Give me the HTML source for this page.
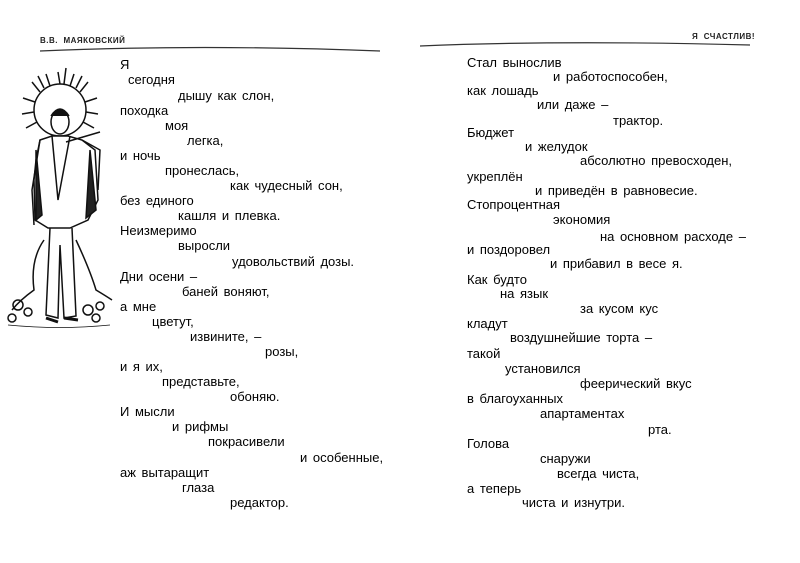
<!DOCTYPE html>
<html><head><meta charset="utf-8"><style>
body{margin:0;background:#fff;}
#p{position:relative;width:800px;height:563px;overflow:hidden;background:#fff;font-family:"Liberation Sans","DejaVu Sans",sans-serif;color:#000;}
.t{position:absolute;font-size:13px;line-height:16px;white-space:pre;word-spacing:2px;}
.h{position:absolute;font-size:8px;font-weight:bold;letter-spacing:0.5px;color:#222;}
</style></head><body><div id="p">
<svg width="800" height="563" style="position:absolute;left:0;top:0">
<path d="M40 51 Q200 44 380 51" stroke="#333" stroke-width="1.2" fill="none"/>
<path d="M420 46 Q560 40 750 45" stroke="#333" stroke-width="1.2" fill="none"/>
<g stroke="#111" fill="none" stroke-width="1.5">
<circle cx="60" cy="110" r="26"/>
<path d="M60 84 L58 72 M70 86 L74 74 M80 92 L88 82 M85 102 L97 98 M86 112 L98 114 M83 122 L94 128 M50 86 L46 74 M40 92 L32 82 M35 102 L23 98 M34 112 L22 114 M37 122 L26 128 M64 84 L66 68 M76 88 L82 76 M44 88 L38 76"/>
<ellipse cx="60" cy="122" rx="9" ry="12" fill="#fff"/>
<path d="M51 116 Q60 102 69 116" fill="#111"/>
<path d="M40 140 L52 136 L68 136 L82 140 L95 150 L98 200 L88 220 L70 228 L48 228 L35 220 L34 180 L36 160 Z" fill="#fff"/>
<path d="M40 140 L32 190 L34 225 M82 140 L100 150 L98 190" />
<path d="M52 136 L58 200 L70 136 M66 142 L100 132"/>
<path d="M36 150 L42 215 L36 220 Z M90 150 L96 210 L86 218 Z" fill="#222"/>
<path d="M50 228 L46 315 L58 318 L60 245 L64 318 L76 316 L72 228"/>
<path d="M46 318 L58 322 M64 318 L78 320" stroke-width="3"/>
<path d="M44 240 Q30 260 34 290 Q20 300 12 310 M76 240 Q90 270 96 290 Q106 296 112 300"/>
<circle cx="18" cy="305" r="5"/><circle cx="28" cy="312" r="4"/><circle cx="12" cy="318" r="4"/>
<circle cx="88" cy="310" r="5"/><circle cx="100" cy="306" r="4"/><circle cx="96" cy="318" r="4"/>
<path d="M8 325 Q60 330 110 325" stroke-width="0.8"/>
</g>
</svg>
<div class="h" style="left:40px;top:36px">В.В.&nbsp; МАЯКОВСКИЙ</div>
<div class="h" style="left:692px;top:32px">Я&nbsp; СЧАСТЛИВ!</div>
<div class="t" style="left:120px;top:57px">Я</div>
<div class="t" style="left:128px;top:72px">сегодня</div>
<div class="t" style="left:178px;top:88px">дышу как слон,</div>
<div class="t" style="left:120px;top:103px">походка</div>
<div class="t" style="left:165px;top:118px">моя</div>
<div class="t" style="left:187px;top:133px">легка,</div>
<div class="t" style="left:120px;top:148px">и ночь</div>
<div class="t" style="left:165px;top:163px">пронеслась,</div>
<div class="t" style="left:230px;top:178px">как чудесный сон,</div>
<div class="t" style="left:120px;top:193px">без единого</div>
<div class="t" style="left:178px;top:208px">кашля и плевка.</div>
<div class="t" style="left:120px;top:223px">Неизмеримо</div>
<div class="t" style="left:178px;top:238px">выросли</div>
<div class="t" style="left:232px;top:254px">удовольствий дозы.</div>
<div class="t" style="left:120px;top:269px">Дни осени –</div>
<div class="t" style="left:182px;top:284px">баней воняют,</div>
<div class="t" style="left:120px;top:299px">а мне</div>
<div class="t" style="left:152px;top:314px">цветут,</div>
<div class="t" style="left:190px;top:329px">извините, –</div>
<div class="t" style="left:265px;top:344px">розы,</div>
<div class="t" style="left:120px;top:359px">и я их,</div>
<div class="t" style="left:162px;top:374px">представьте,</div>
<div class="t" style="left:230px;top:389px">обоняю.</div>
<div class="t" style="left:120px;top:404px">И мысли</div>
<div class="t" style="left:172px;top:419px">и рифмы</div>
<div class="t" style="left:208px;top:434px">покрасивели</div>
<div class="t" style="left:300px;top:450px">и особенные,</div>
<div class="t" style="left:120px;top:465px">аж вытаращит</div>
<div class="t" style="left:182px;top:480px">глаза</div>
<div class="t" style="left:230px;top:495px">редактор.</div>

<div class="t" style="left:467px;top:55px">Стал вынослив</div>
<div class="t" style="left:553px;top:69px">и работоспособен,</div>
<div class="t" style="left:467px;top:83px">как лошадь</div>
<div class="t" style="left:537px;top:97px">или даже –</div>
<div class="t" style="left:613px;top:113px">трактор.</div>
<div class="t" style="left:467px;top:125px">Бюджет</div>
<div class="t" style="left:525px;top:139px">и желудок</div>
<div class="t" style="left:580px;top:153px">абсолютно превосходен,</div>
<div class="t" style="left:467px;top:169px">укреплён</div>
<div class="t" style="left:535px;top:183px">и приведён в равновесие.</div>
<div class="t" style="left:467px;top:197px">Стопроцентная</div>
<div class="t" style="left:553px;top:212px">экономия</div>
<div class="t" style="left:600px;top:229px">на основном расходе –</div>
<div class="t" style="left:467px;top:242px">и поздоровел</div>
<div class="t" style="left:550px;top:256px">и прибавил в весе я.</div>
<div class="t" style="left:467px;top:272px">Как будто</div>
<div class="t" style="left:500px;top:286px">на язык</div>
<div class="t" style="left:580px;top:301px">за кусом кус</div>
<div class="t" style="left:467px;top:316px">кладут</div>
<div class="t" style="left:510px;top:330px">воздушнейшие торта –</div>
<div class="t" style="left:467px;top:346px">такой</div>
<div class="t" style="left:505px;top:361px">установился</div>
<div class="t" style="left:580px;top:376px">феерический вкус</div>
<div class="t" style="left:467px;top:391px">в благоуханных</div>
<div class="t" style="left:540px;top:406px">апартаментах</div>
<div class="t" style="left:648px;top:422px">рта.</div>
<div class="t" style="left:467px;top:436px">Голова</div>
<div class="t" style="left:540px;top:451px">снаружи</div>
<div class="t" style="left:557px;top:466px">всегда чиста,</div>
<div class="t" style="left:467px;top:481px">а теперь</div>
<div class="t" style="left:522px;top:495px">чиста и изнутри.</div>
</div></body></html>
